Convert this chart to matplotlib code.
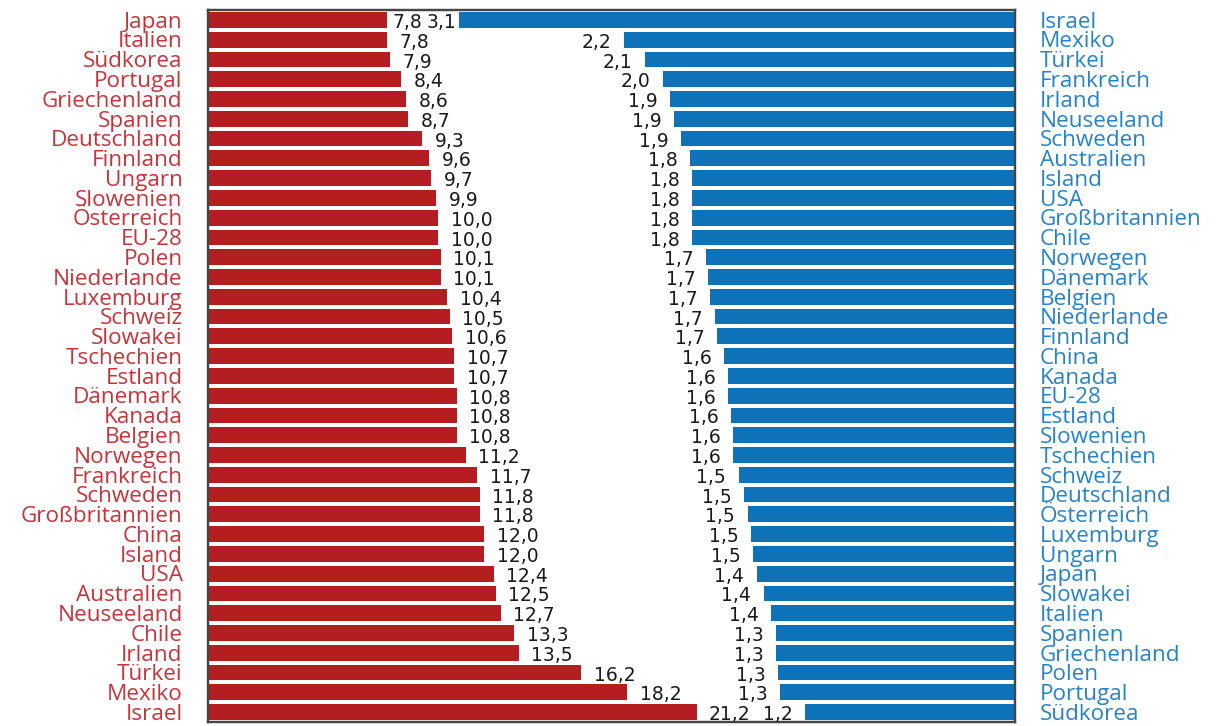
import matplotlib
matplotlib.use("Agg")
import matplotlib.pyplot as plt

# Left panel (red), top to bottom
left_countries = [
    "Japan", "Italien", "Südkorea", "Portugal", "Griechenland", "Spanien",
    "Deutschland", "Finnland", "Ungarn", "Slowenien", "Österreich", "EU-28",
    "Polen", "Niederlande", "Luxemburg", "Schweiz", "Slowakei", "Tschechien",
    "Estland", "Dänemark", "Kanada", "Belgien", "Norwegen", "Frankreich",
    "Schweden", "Großbritannien", "China", "Island", "USA", "Australien",
    "Neuseeland", "Chile", "Irland", "Türkei", "Mexiko", "Israel",
]
left_values = [
    7.8, 7.8, 7.9, 8.4, 8.6, 8.7, 9.3, 9.6, 9.7, 9.9, 10.0, 10.0,
    10.1, 10.1, 10.4, 10.5, 10.6, 10.7, 10.7, 10.8, 10.8, 10.8, 11.2, 11.7,
    11.8, 11.8, 12.0, 12.0, 12.4, 12.5, 12.7, 13.3, 13.5, 16.2, 18.2, 21.2,
]

# Right panel (blue), top to bottom
right_countries = [
    "Israel", "Mexiko", "Türkei", "Frankreich", "Irland", "Neuseeland",
    "Schweden", "Australien", "Island", "USA", "Großbritannien", "Chile",
    "Norwegen", "Dänemark", "Belgien", "Niederlande", "Finnland", "China",
    "Kanada", "EU-28", "Estland", "Slowenien", "Tschechien", "Schweiz",
    "Deutschland", "Österreich", "Luxemburg", "Ungarn", "Japan", "Slowakei",
    "Italien", "Spanien", "Griechenland", "Polen", "Portugal", "Südkorea",
]
right_values = [
    3.10, 2.18, 2.06, 1.96, 1.92, 1.90, 1.86, 1.81, 1.80, 1.80, 1.80, 1.80,
    1.72, 1.71, 1.70, 1.67, 1.66, 1.62, 1.60, 1.60, 1.58, 1.57, 1.57, 1.54,
    1.51, 1.49, 1.47, 1.46, 1.44, 1.40, 1.36, 1.33, 1.33, 1.32, 1.31, 1.17,
]

RED = "#b41e21"
BLUE = "#0e72b9"
RED_TEXT = "#c6343a"
BLUE_TEXT = "#2782c7"
NAME_FONT = ["Open Sans", "DejaVu Sans"]
VALUE_FONT = ["DejaVu Sans"]
NAME_SIZE = 16.2


def fmt(v):
    return f"{v:.1f}".replace(".", ",")


fig = plt.figure(figsize=(12.2, 7.26), dpi=100)
ax = fig.add_axes([207.5 / 1220, 4 / 726, 807.5 / 1220, 712 / 726])
ax2 = ax.twiny()

n = len(left_countries)
ypos = list(range(n))

ax.barh(ypos, left_values, height=0.8, color=RED, edgecolor="none")
ax2.barh(ypos, right_values, height=0.8, color=BLUE, edgecolor="none")

ax.set_xlim(0, 35)
ax2.set_xlim(4.5, 0)
ax.set_ylim(n - 0.5, -0.5)

for a in (ax, ax2):
    a.set_xticks([])
    a.set_yticks([])
    for s in a.spines.values():
        s.set_color("#454545")
        s.set_linewidth(1.6)

# Country names outside the frame
for i, (lc, rc) in enumerate(zip(left_countries, right_countries)):
    ax.annotate(lc, xy=(0, i), xycoords=("axes fraction", "data"),
                xytext=(-18, -5.6), textcoords="offset points",
                ha="right", va="baseline", fontsize=NAME_SIZE,
                color=RED_TEXT, family=NAME_FONT)
    ax.annotate(rc, xy=(1, i), xycoords=("axes fraction", "data"),
                xytext=(18, -5.6), textcoords="offset points",
                ha="left", va="baseline", fontsize=NAME_SIZE,
                color=BLUE_TEXT, family=NAME_FONT)

# Value labels next to the bar ends
PAD = 9.0
red_labels, blue_labels = [], []
for i, (lv, rv) in enumerate(zip(left_values, right_values)):
    t1 = ax.annotate(fmt(lv), xy=(lv, i), xytext=(PAD, -5.8),
                     textcoords="offset points", ha="left", va="baseline",
                     fontsize=13.5, color="#1a1a1a", family=VALUE_FONT)
    t2 = ax2.annotate(fmt(rv), xy=(rv, i), xytext=(-PAD, -5.8),
                      textcoords="offset points", ha="right", va="baseline",
                      fontsize=13.5, color="#1a1a1a", family=VALUE_FONT)
    red_labels.append(t1)
    blue_labels.append(t2)

# Pull colliding labels closer to their bars
fig.canvas.draw()
renderer = fig.canvas.get_renderer()
for t1, t2 in zip(red_labels, blue_labels):
    b1 = t1.get_window_extent(renderer)
    b2 = t2.get_window_extent(renderer)
    if b1.x1 + 4 > b2.x0:
        t1.set_position((3.8, -5.8))
        t2.set_position((-1.5, -5.8))

fig.savefig("out.png", dpi=100, facecolor="white")
